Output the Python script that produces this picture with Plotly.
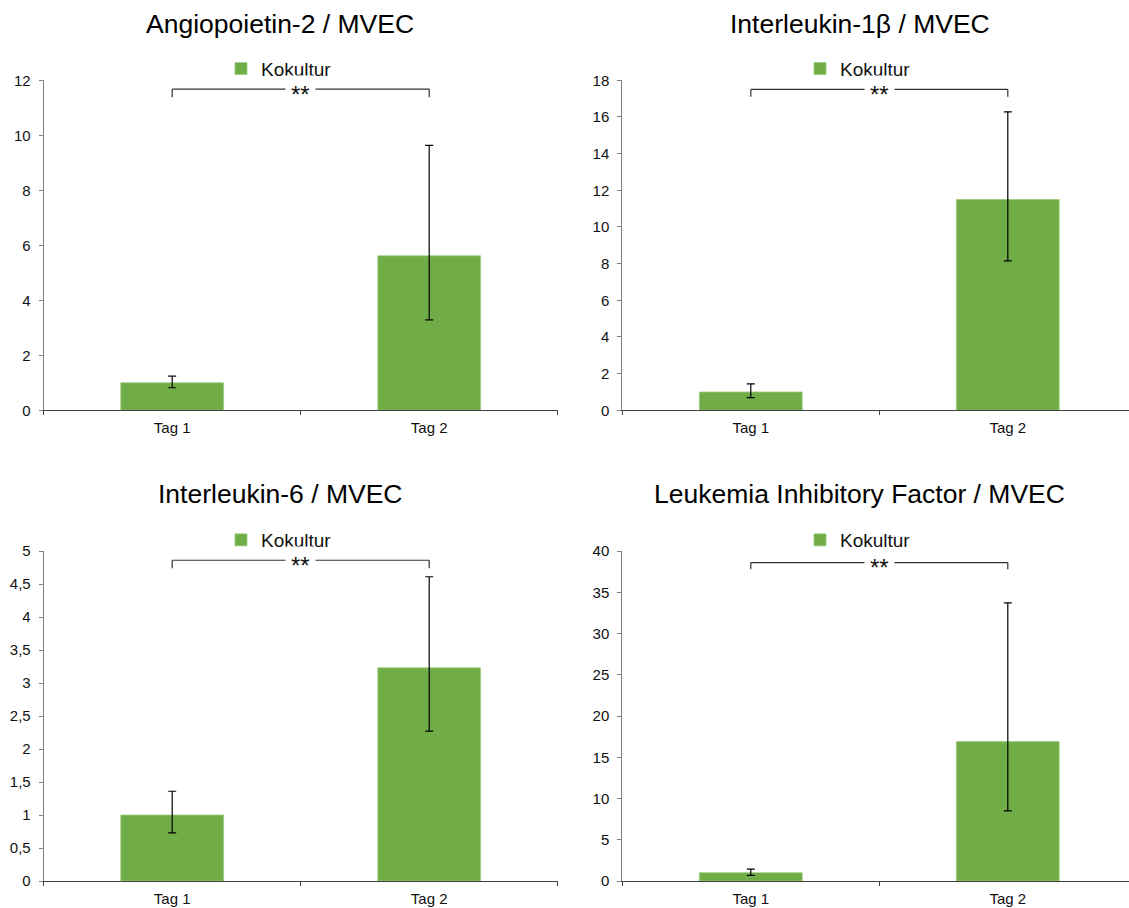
import plotly.graph_objects as go

W, H = 1129, 908

categories = ["Tag 1", "Tag 2"]
titles = ["Angiopoietin-2 / MVEC", "Interleukin-1β / MVEC",
          "Interleukin-6 / MVEC", "Leukemia Inhibitory Factor / MVEC"]
series_name = "Kokultur"

ang2_values = [1.0, 5.62]
ang2_upper = [1.24, 9.63]
ang2_lower = [0.82, 3.29]

il1b_values = [1.0, 11.5]
il1b_upper = [1.44, 16.28]
il1b_lower = [0.69, 8.15]

il6_values = [1.0, 3.23]
il6_upper = [1.36, 4.61]
il6_lower = [0.73, 2.27]

lif_values = [1.0, 16.9]
lif_upper = [1.45, 33.7]
lif_lower = [0.69, 8.5]

y_max = [12, 18, 5, 40]
y_dtick = [2, 2, 0.5, 5]
bracket_top = [11.68, 17.5, 4.86, 38.6]
bracket_end = [11.38, 17.1, 4.74, 37.8]
significance = "**"

values = [ang2_values, il1b_values, il6_values, lif_values]
uppers = [ang2_upper, il1b_upper, il6_upper, lif_upper]
lowers = [ang2_lower, il1b_lower, il6_lower, lif_lower]

FONT = "Liberation Sans, Arial, Helvetica, sans-serif"
GREEN = "#70AD47"

# panel geometry in pixels: (x_left, x_right, y_top, y_bottom)
unit = 257.0
panels = [
    (43.7, 43.7 + 2 * unit, 80.3, 410.3),
    (622.3, W, 80.3, 410.3),
    (43.7, 43.7 + 2 * unit, 551.0, 881.0),
    (622.3, W, 551.0, 881.0),
]
title_pos = [(280, 24), (859.5, 24), (280.3, 494), (859, 494)]
legend_left = [221.0, 800.0, 221.0, 800.0]
legend_y = [68.7, 68.7, 540.0, 540.0]

fig = go.Figure()
layout = dict(
    width=W, height=H,
    margin=dict(l=0, r=0, t=0, b=0, autoexpand=False),
    paper_bgcolor="white", plot_bgcolor="white",
    separators=", ",
    bargap=0.6,
    font=dict(family=FONT, size=15, color="#111111"),
    showlegend=True,
)
annotations = []
shapes = []

for i in range(4):
    n = "" if i == 0 else str(i + 1)
    xl, xr, yt, yb = panels[i]
    xend = -0.5 + (xr - xl) / unit
    err_plus = [u - v for u, v in zip(uppers[i], values[i])]
    err_minus = [v - l for v, l in zip(values[i], lowers[i])]
    legname = "legend" + n
    fig.add_trace(go.Bar(
        x=categories, y=values[i], name=series_name,
        marker=dict(color=GREEN, line=dict(color="#9ccc80", width=0.8)),
        error_y=dict(type="data", symmetric=False, array=err_plus,
                     arrayminus=err_minus, color="black", thickness=1.2, width=4),
        xaxis="x" + n, yaxis="y" + n, legend=legname, showlegend=True,
    ))
    layout["xaxis" + n] = dict(
        domain=[xl / W, xr / W], anchor="y" + n, type="category",
        range=[-0.5, xend], tickson="boundaries", ticks="outside", ticklen=4,
        tickcolor="#404040", showline=True, linecolor="#404040", linewidth=1,
        showgrid=False, zeroline=False, fixedrange=True, automargin=False,
        ticklabelstandoff=4,
        tickfont=dict(family=FONT, size=15, color="#111111"),
    )
    layout["yaxis" + n] = dict(
        domain=[1 - yb / H, 1 - yt / H], anchor="x" + n,
        range=[0, y_max[i]], dtick=y_dtick[i], tick0=0,
        ticks="outside", ticklen=4, tickcolor="#808080",
        showline=True, linecolor="#808080", linewidth=1,
        showgrid=False, zeroline=False, fixedrange=True, automargin=False,
        ticklabelstandoff=5,
        tickfont=dict(family=FONT, size=15, color="#111111"),
    )
    layout[legname] = dict(
        x=legend_left[i] / W, xanchor="left",
        y=1 - legend_y[i] / H, yanchor="middle",
        bgcolor="rgba(0,0,0,0)", borderwidth=0,
        font=dict(family=FONT, size=19, color="#111111"),
        orientation="h",
    )
    # title
    annotations.append(dict(
        text=titles[i], x=title_pos[i][0] / W, y=1 - title_pos[i][1] / H,
        xref="paper", yref="paper", xanchor="center", yanchor="middle",
        showarrow=False, font=dict(family=FONT, size=26.5, color="black"),
    ))
    # significance bracket
    lc = dict(color="#333333", width=1.2)
    xr_ = "x" + n
    yr_ = "y" + n
    shapes.append(dict(type="line", xref=xr_, yref=yr_, x0=0, x1=0,
                       y0=bracket_end[i], y1=bracket_top[i], line=lc))
    shapes.append(dict(type="line", xref=xr_, yref=yr_, x0=0, x1=1,
                       y0=bracket_top[i], y1=bracket_top[i], line=lc))
    shapes.append(dict(type="line", xref=xr_, yref=yr_, x0=1, x1=1,
                       y0=bracket_end[i], y1=bracket_top[i], line=lc))
    annotations.append(dict(
        text=significance, x=0.5, y=bracket_top[i], xref=xr_, yref=yr_,
        xanchor="center", yanchor="middle", yshift=-5, showarrow=False,
        bgcolor="white", borderpad=5,
        font=dict(family=FONT, size=24, color="#111111"),
    ))

layout["annotations"] = annotations
layout["shapes"] = shapes
fig.update_layout(**layout)
fig.write_html("out.html")
